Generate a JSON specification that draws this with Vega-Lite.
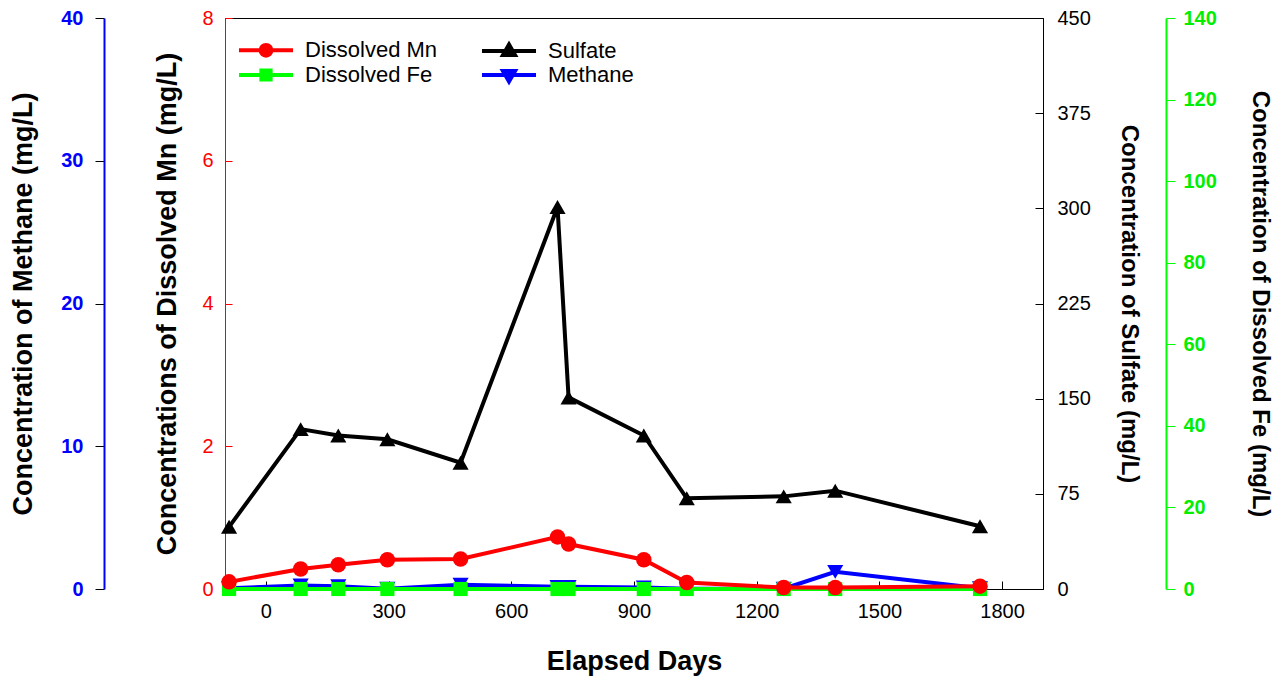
{
  "$schema": "https://vega.github.io/schema/vega-lite/v6.json",
  "width": 818,
  "height": 571,
  "autosize": {"type": "none"},
  "padding": {"left": 225, "top": 18, "right": 238, "bottom": 92},
  "background": "white",
  "config": {
    "font": "Liberation Sans",
    "view": {"stroke": "black", "strokeWidth": 1},
    "axis": {"grid": false, "labelFont": "Liberation Sans", "titleFont": "Liberation Sans", "labelOverlap": false, "labelFlush": false}
  },
  "data": {
    "values": [
      {"day": -90, "series": "Dissolved Mn", "value": 0.10},
      {"day": 85, "series": "Dissolved Mn", "value": 0.28},
      {"day": 177, "series": "Dissolved Mn", "value": 0.34},
      {"day": 297, "series": "Dissolved Mn", "value": 0.41},
      {"day": 476, "series": "Dissolved Mn", "value": 0.42},
      {"day": 713, "series": "Dissolved Mn", "value": 0.73},
      {"day": 740, "series": "Dissolved Mn", "value": 0.63},
      {"day": 924, "series": "Dissolved Mn", "value": 0.41},
      {"day": 1029, "series": "Dissolved Mn", "value": 0.09},
      {"day": 1266, "series": "Dissolved Mn", "value": 0.02},
      {"day": 1392, "series": "Dissolved Mn", "value": 0.02},
      {"day": 1746, "series": "Dissolved Mn", "value": 0.04},
      {"day": -90, "series": "Sulfate", "value": 49},
      {"day": 85, "series": "Sulfate", "value": 126},
      {"day": 177, "series": "Sulfate", "value": 121},
      {"day": 297, "series": "Sulfate", "value": 118},
      {"day": 476, "series": "Sulfate", "value": 99.5},
      {"day": 713, "series": "Sulfate", "value": 301},
      {"day": 740, "series": "Sulfate", "value": 151},
      {"day": 924, "series": "Sulfate", "value": 121},
      {"day": 1029, "series": "Sulfate", "value": 71.5},
      {"day": 1266, "series": "Sulfate", "value": 73},
      {"day": 1392, "series": "Sulfate", "value": 77.5},
      {"day": 1746, "series": "Sulfate", "value": 49.5},
      {"day": -90, "series": "Dissolved Fe", "value": 0},
      {"day": 85, "series": "Dissolved Fe", "value": 0},
      {"day": 177, "series": "Dissolved Fe", "value": 0},
      {"day": 297, "series": "Dissolved Fe", "value": 0},
      {"day": 476, "series": "Dissolved Fe", "value": 0},
      {"day": 713, "series": "Dissolved Fe", "value": 0},
      {"day": 740, "series": "Dissolved Fe", "value": 0},
      {"day": 924, "series": "Dissolved Fe", "value": 0},
      {"day": 1029, "series": "Dissolved Fe", "value": 0},
      {"day": 1266, "series": "Dissolved Fe", "value": 0},
      {"day": 1392, "series": "Dissolved Fe", "value": 0},
      {"day": 1746, "series": "Dissolved Fe", "value": 0},
      {"day": -90, "series": "Methane", "value": 0.05},
      {"day": 85, "series": "Methane", "value": 0.25},
      {"day": 177, "series": "Methane", "value": 0.2},
      {"day": 297, "series": "Methane", "value": 0.02},
      {"day": 476, "series": "Methane", "value": 0.3},
      {"day": 713, "series": "Methane", "value": 0.15},
      {"day": 740, "series": "Methane", "value": 0.15},
      {"day": 924, "series": "Methane", "value": 0.1},
      {"day": 1029, "series": "Methane", "value": 0.02},
      {"day": 1266, "series": "Methane", "value": 0.02},
      {"day": 1392, "series": "Methane", "value": 1.2},
      {"day": 1746, "series": "Methane", "value": 0.05}
    ]
  },
  "encoding": {
    "x": {
      "field": "day", "type": "quantitative",
      "scale": {"domain": [-100, 1900], "nice": false, "zero": false},
      "axis": {
        "values": [0, 300, 600, 900, 1200, 1500, 1800], "format": "d",
        "tickSize": -8, "tickColor": "black", "domainColor": "black",
        "labelFontSize": 20, "labelColor": "black", "labelPadding": 20,
        "title": "Elapsed Days", "titleFontSize": 27, "titleFontWeight": "bold",
        "titleColor": "black", "titlePadding": 27
      }
    },
    "color": {
      "field": "series", "type": "nominal",
      "scale": {
        "domain": ["Dissolved Mn", "Dissolved Fe", "Sulfate", "Methane"],
        "range": ["#ff0000", "#00ff00", "#000000", "#0000ff"]
      },
      "legend": {
        "title": null, "orient": "none", "legendX": 30, "legendY": 21,
        "columns": 2, "columnPadding": 35, "rowPadding": -3, "padding": 0,
        "labelFontSize": 22, "labelColor": "black", "labelOffset": 28,
        "symbolSize": 196, "symbolStrokeWidth": 4, "symbolOpacity": 1,
        "symbolType": {"expr": "datum.value === 'Dissolved Mn' ? 'M-3.86,0L3.86,0M0.77,0A0.77,0.77,0,1,1,-0.77,0A0.77,0.77,0,1,1,0.77,0Z' : datum.value === 'Dissolved Fe' ? 'M-3.86,0L3.86,0M-0.66,-0.66L0.66,-0.66L0.66,0.66L-0.66,0.66Z' : datum.value === 'Sulfate' ? 'M-3.86,0L3.86,0M0,-0.93L0.86,0.57L-0.86,0.57Z' : 'M-3.86,0L3.86,0M0,0.93L0.86,-0.57L-0.86,-0.57Z'"},
        "symbolStrokeColor": {"expr": "scale('color', datum.value)"},
        "symbolFillColor": {"expr": "scale('color', datum.value)"}
      }
    }
  },
  "layer": [
    {
      "transform": [{"filter": "datum.series === 'Sulfate'"}],
      "encoding": {
        "y": {
          "field": "value", "type": "quantitative",
          "scale": {"domain": [0, 450], "nice": false, "zero": true},
          "axis": {
            "orient": "right", "offset": 0, "values": [0, 75, 150, 225, 300, 375, 450],
            "tickSize": -8, "tickColor": "black", "domainColor": "black",
            "labelFontSize": 20, "labelColor": "black", "labelPadding": 22,
            "title": "Concentration of Sulfate (mg/L)", "titleFontSize": 24,
            "titleFontWeight": "bold", "titleColor": "black", "titlePadding": 26
          }
        }
      },
      "layer": [
        {"mark": {"type": "line", "strokeWidth": 4}},
        {"mark": {"type": "point", "shape": "triangle-up", "filled": true, "size": 260, "opacity": 1}}
      ]
    },
    {
      "transform": [{"filter": "datum.series === 'Methane'"}],
      "encoding": {
        "y": {
          "field": "value", "type": "quantitative",
          "scale": {"domain": [0, 40], "nice": false, "zero": true},
          "axis": {
            "orient": "left", "offset": 121, "values": [0, 10, 20, 30, 40],
            "tickSize": 9, "tickColor": "black", "domainColor": "#0000ff", "domainWidth": 2,
            "labelFontSize": 20, "labelFontWeight": "bold", "labelColor": "#0000ff", "labelPadding": 12,
            "title": "Concentration of Methane (mg/L)", "titleFontSize": 27,
            "titleFontWeight": "bold", "titleColor": "black", "titlePadding": 23
          }
        }
      },
      "layer": [
        {"mark": {"type": "line", "strokeWidth": 4}},
        {"mark": {"type": "point", "shape": "triangle-down", "filled": true, "size": 260, "opacity": 1}}
      ]
    },
    {
      "transform": [{"filter": "datum.series === 'Dissolved Fe'"}],
      "encoding": {
        "y": {
          "field": "value", "type": "quantitative",
          "scale": {"domain": [0, 140], "nice": false, "zero": true},
          "axis": {
            "orient": "right", "offset": 123, "values": [0, 20, 40, 60, 80, 100, 120, 140],
            "tickSize": 9, "tickColor": "#00ff00", "domainColor": "#00ff00", "domainWidth": 2,
            "labelFontSize": 20, "labelFontWeight": "bold", "labelColor": "#00ee00", "labelPadding": 8,
            "title": "Concentration of Dissolved Fe (mg/L)", "titleFontSize": 24,
            "titleFontWeight": "bold", "titleColor": "black", "titlePadding": 31
          }
        }
      },
      "layer": [
        {"mark": {"type": "line", "strokeWidth": 4}},
        {"mark": {"type": "point", "shape": "square", "filled": true, "size": 200, "opacity": 1}}
      ]
    },
    {
      "transform": [{"filter": "datum.series === 'Dissolved Mn'"}],
      "encoding": {
        "y": {
          "field": "value", "type": "quantitative",
          "scale": {"domain": [0, 8], "nice": false, "zero": true},
          "axis": {
            "orient": "left", "offset": 0, "values": [0, 2, 4, 6, 8],
            "tickSize": -7, "tickColor": "#ff0000", "domainColor": "#ff0000",
            "labelFontSize": 20, "labelColor": "#ff0000", "labelPadding": 19,
            "title": "Concentrations of Dissolved Mn (mg/L)", "titleFontSize": 27,
            "titleFontWeight": "bold", "titleColor": "black", "titlePadding": 20
          }
        }
      },
      "layer": [
        {"mark": {"type": "line", "strokeWidth": 4}},
        {"mark": {"type": "point", "shape": "circle", "filled": true, "size": 240, "opacity": 1}}
      ]
    }
  ],
  "resolve": {"scale": {"y": "independent"}, "axis": {"y": "independent"}}
}
